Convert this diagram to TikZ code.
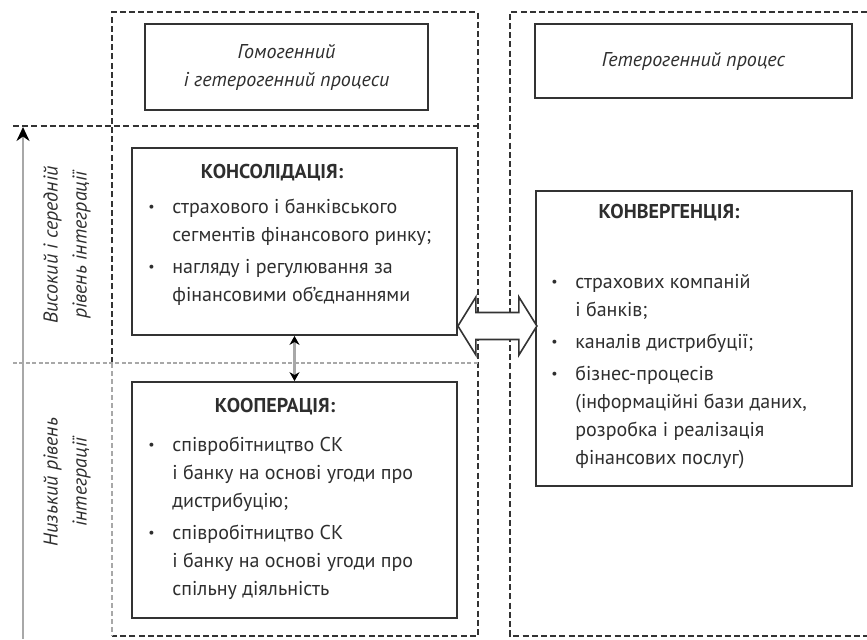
\documentclass[tikz,border=0pt]{standalone}
\usepackage{fontspec}
\setmainfont{PT Sans}
\usepackage{xcolor}
\usepackage{tikz}
\usetikzlibrary{arrows.meta, positioning}
\definecolor{linegray}{HTML}{333333}
\definecolor{axisgray}{HTML}{A8A8A8}
\definecolor{textgray}{HTML}{2E2E2E}
\def\bulletindent{12pt}
\newcommand{\dotmark}{\raisebox{0.7pt}{\fontsize{7}{7}\selectfont\textbullet}}

\begin{document}
\begin{tikzpicture}[x=0.5pt, y=-0.5pt, >=Stealth,
        every node/.style={font=\fontsize{10}{14}\selectfont, text=textgray},
        frame/.style={draw=linegray, line width=0.7pt, dash pattern=on 3pt off 1.6pt},
        faint/.style={draw=axisgray, line width=0.8pt, dash pattern=on 2.5pt off 1.5pt},
        procbox/.style={draw=linegray, line width=0.9pt, inner sep=0pt, align=center},
        title/.style={font=\fontsize{10}{14}\selectfont\bfseries},
        body/.style={anchor=north west, inner sep=0pt},
        level/.style={rotate=90, align=center, font=\fontsize{10}{14.5}\selectfont\itshape},
        linkarrow/.style={draw=linegray, fill=white, line width=0.8pt, line join=miter}]
        \def\itemgap{2pt}
        \useasboundingbox (0,0) rectangle (867,639);
        % frames and levels
        \draw[frame] (112,363) -- (112,12) -- (478,12) -- (478,636) -- (112,636);
        \draw[faint] (112,363) -- (112,636);
        \draw[frame] (867,12) -- (510,12) -- (510,636) -- (867,636);
        \draw[frame] (13,126) -- (478,126);
        \draw[faint, dash pattern=on 2pt off 1.2pt] (13,363) -- (478,363);
        \coordinate (axisbot) at (23,639);
        \coordinate (axistop) at (23,127);
        \draw[axisgray, line width=1.2pt, -{Stealth[black, length=7pt, width=6.5pt]}] (axisbot) -- (axistop);
        \node[level] (highlvl) at (67,245) {Високий і середній\\рівень інтеграції};
        \node[level] (lowlvl) at (67,482) {Низький рівень\\інтеграції};
        % process boxes
        \node[procbox, minimum width=141.5pt, minimum height=43pt] (homo) at (286.5,67) {\itshape Гомогенний\\ \itshape і гетерогенний процеси};
        \node[procbox, minimum width=158.5pt, minimum height=37pt] (hetero) at (693.5,61) {\itshape Гетерогенний процес};
        \node[procbox, minimum width=162.5pt, minimum height=93.5pt] (cons) at (294.5,241.5) {};
        \node[procbox, minimum width=162.5pt, minimum height=118pt] (coop) at (294.5,500) {};
        \node[procbox, minimum width=158pt, minimum height=147.5pt] (conv) at (694,338.5) {};
        % texts
        \node[title] (constitle) at (272,173) {КОНСОЛІДАЦІЯ:};
        \node[body] (consbody) at (148,193) {\begin{tabular}{@{}p{\bulletindent}@{}l@{}}
            \dotmark & страхового і банківського\\
                     & сегментів фінансового ринку;\\[\itemgap]
            \dotmark & нагляду і регулювання за\\
                     & фінансовими об’єднаннями
            \end{tabular}};
        \node[title] (cooptitle) at (275,407) {КООПЕРАЦІЯ:};
        \node[body] (coopbody) at (148,431) {\begin{tabular}{@{}p{\bulletindent}@{}l@{}}
            \dotmark & співробітництво СК\\
                     & і банку на основі угоди про\\
                     & дистрибуцію;\\[\itemgap]
            \dotmark & співробітництво СК\\
                     & і банку на основі угоди про\\
                     & спільну діяльність
            \end{tabular}};
        \node[title] (convtitle) at (669,213) {КОНВЕРГЕНЦІЯ:};
        \node[body] (convbody) at (551,268) {\begin{tabular}{@{}p{\bulletindent}@{}l@{}}
            \dotmark & страхових компаній\\
                     & і банків;\\[\itemgap]
            \dotmark & каналів дистрибуції;\\[\itemgap]
            \dotmark & бізнес-процесів\\
                     & (інформаційні бази даних,\\
                     & розробка і реалізація\\
                     & фінансових послуг)
            \end{tabular}};
        % links
        \coordinate (linkc) at (497.5,326);
        \draw[linkarrow] (cons.east |- linkc) -- ++(18,-29) -- ++(0,15.5) -- ++(43,0) -- ++(0,-15.5)
            -- ++(18,29) -- ++(-18,29) -- ++(0,-15.5) -- ++(-43,0) -- ++(0,15.5) -- cycle;
        \draw[axisgray, line width=1.2pt, {Stealth[black, length=4.5pt, width=5pt]}-{Stealth[black, length=4.5pt, width=5pt]}] (cons.south) -- (coop.north);
    \end{tikzpicture}
\end{document}
